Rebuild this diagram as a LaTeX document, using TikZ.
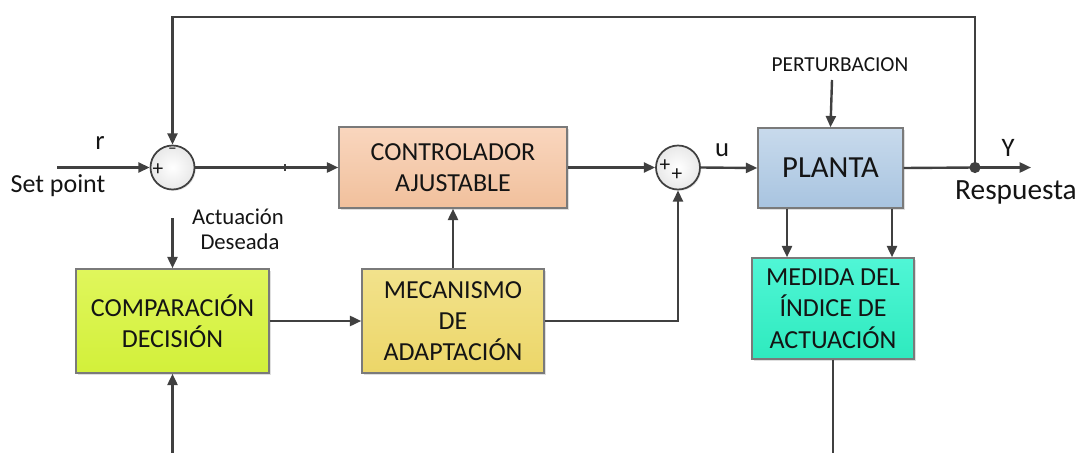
\documentclass[tikz,border=0pt]{standalone}
\usepackage{fontspec}
\setmainfont{Carlito}
\usetikzlibrary{arrows.meta,shadows}
\definecolor{lc}{HTML}{404040}
\definecolor{bc}{HTML}{7A7A7A}
\definecolor{txt}{HTML}{141414}
\begin{document}
\begin{tikzpicture}[x=0.75pt,y=-0.75pt,
 line/.style={draw=lc,line width=1.8pt},
 arr/.style={line,-{Triangle[length=8.5pt,width=7.5pt]}},
 blk/.style={draw=bc,line width=1.1pt,align=center,inner sep=0pt,
   font=\fontsize{19.5}{23.5}\selectfont,text=txt,
   drop shadow={shadow xshift=1.2pt,shadow yshift=-1.2pt,opacity=0.25}},
 sumc/.style={circle,draw=lc,line width=1.3pt,inner color=white,outer color=gray!18,minimum size=33pt,inner sep=0pt,
   drop shadow={shadow xshift=1pt,shadow yshift=-1pt,opacity=0.2}},
 lbl/.style={text=txt,inner sep=0pt},
 sgn/.style={text=txt,inner sep=0pt,font=\fontsize{16}{16}\selectfont}
]
\useasboundingbox (0,0) rectangle (1081,453);

% blocks
\node[blk,minimum width=171pt,minimum height=60.75pt,top color={rgb,255:red,249;green,214;blue,190},bottom color={rgb,255:red,241;green,192;blue,156}] (ctrl) at (453,167.5) {CONTROLADOR\\AJUSTABLE};
\node[blk,minimum width=108.75pt,minimum height=60pt,top color={rgb,255:red,200;green,218;blue,236},bottom color={rgb,255:red,168;green,196;blue,224},font=\fontsize{23}{27}\selectfont] (planta) at (830.5,168) {PLANTA};
\node[blk,minimum width=121.5pt,minimum height=75.75pt,top color={rgb,255:red,80;green,246;blue,214},bottom color={rgb,255:red,46;green,234;blue,190}] (medida) at (833,308.5) {MEDIDA DEL\\ÍNDICE DE\\ACTUACIÓN};
\node[blk,minimum width=144.75pt,minimum height=78pt,top color={rgb,255:red,224;green,246;blue,92},bottom color={rgb,255:red,210;green,240;blue,58}] (comp) at (172.5,321) {COMPARACIÓN\\DECISIÓN};
\node[blk,minimum width=136.5pt,minimum height=78pt,top color={rgb,255:red,242;green,226;blue,140},bottom color={rgb,255:red,236;green,214;blue,104}] (mec) at (453,321) {MECANISMO\\DE\\ADAPTACIÓN};

% summing junctions
\node[sumc] (s1) at (172.5,167.5) {};
\node[sgn] (s1p) at (158,170) {+};
\node[sgn,font=\fontsize{13}{13}\selectfont] (s1m) at (172.5,151) {--};
\node[sumc] (s2) at (678,167.5) {};
\node[sgn] (s2p) at (665,166) {+};
\node[sgn] (s2q) at (677,175) {+};

% free ends
\coordinate (spin) at (57,167.5);
\coordinate (top) at (0,17);
\coordinate (dot) at (975,167.5);
\coordinate (yout) at (1031,167.5);
\coordinate (pert) at (832,80);
\coordinate (bot) at (0,455);
\coordinate (act) at (172.5,218);
\coordinate (c1) at (787,0);
\coordinate (c2) at (892,0);

% connectors
\draw[arr] (spin) -- (s1.west);
\draw[arr] (s1.east) -- (ctrl.west);
\draw[lc,line width=0.8pt] (285,164) -- (285,171);
\draw[arr] (ctrl.east) -- (s2.west);
\draw[arr] (s2.east) -- (planta.west);
\draw[arr] (pert) -- (planta.north);
\draw[line] (planta.east) -- (dot);
\draw[arr] (dot) -- (yout);
\draw[arr] (dot) -- (dot |- top) -| (s1.north);
\fill[lc] (dot) circle (4.2pt);
\draw[arr] (c1 |- planta.south) -- (c1 |- medida.north);
\draw[arr] (c2 |- planta.south) -- (c2 |- medida.north);
\draw[line] (medida.south) -- (medida.south |- bot);
\draw[arr] (comp.south |- bot) -- (comp.south);
\draw[arr] (act) -- (comp.north);
\draw[arr] (comp.east) -- (mec.west);
\draw[arr] (mec.north) -- (ctrl.south);
\draw[arr] (mec.east) -| (s2.south);

% labels
\node[lbl,font=\fontsize{20}{20}\selectfont] (lr) at (100,143) {r};
\node[lbl,font=\fontsize{19.5}{19.5}\selectfont] (lsp) at (58,186) {Set point};
\node[lbl,font=\fontsize{20}{20}\selectfont] (lu) at (722,150) {u};
\node[lbl,font=\fontsize{20}{20}\selectfont] (ly) at (1008,148) {Y};
\node[lbl,font=\fontsize{22}{22}\selectfont] (lresp) at (1016,192) {Respuesta};
\node[lbl,font=\fontsize{16}{16}\selectfont] (lpert) at (840,65) {PERTURBACION};
\node[lbl,font=\fontsize{17}{17}\selectfont] (lact1) at (238,217) {Actuación};
\node[lbl,font=\fontsize{17}{17}\selectfont] (lact2) at (240,242) {Deseada};
\end{tikzpicture}
\end{document}
